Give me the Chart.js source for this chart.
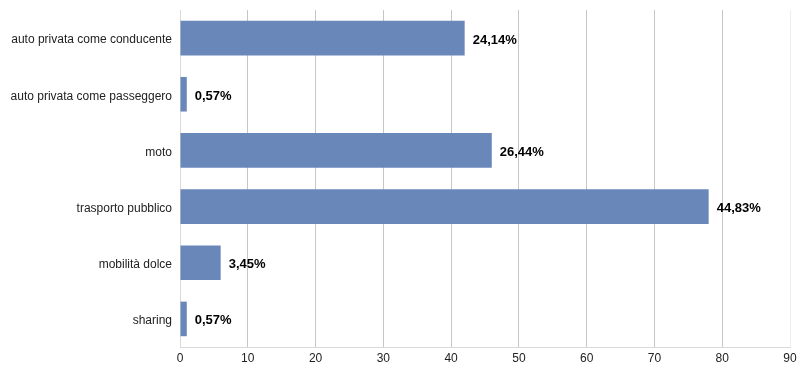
<!DOCTYPE html>
<html>
<head>
<meta charset="utf-8">
<script src="https://cdn.jsdelivr.net/npm/chart.js@4/dist/chart.umd.min.js"></script>
<style>
html,body{margin:0;padding:0;background:#fff;}
#wrap{width:804px;height:382px;position:relative;}
</style>
</head>
<body>
<div id="wrap"><canvas id="c" width="804" height="382"></canvas></div>
<script>
const categories = ["auto privata come conducente","auto privata come passeggero","moto","trasporto pubblico","mobilità dolce","sharing"];
const counts = [42, 1, 46, 78, 6, 1];
const percentLabels = ["24,14%","0,57%","26,44%","44,83%","3,45%","0,57%"];
const xTicks = [0,10,20,30,40,50,60,70,80,90];

const labelPlugin = {
  id: 'barLabels',
  afterDatasetsDraw(chart) {
    const ctx = chart.ctx;
    const meta = chart.getDatasetMeta(0);
    ctx.save();
    ctx.font = 'bold 13px "Liberation Sans", Arial, sans-serif';
    ctx.fillStyle = '#000';
    ctx.textBaseline = 'middle';
    ctx.textAlign = 'left';
    meta.data.forEach((bar, i) => {
      ctx.fillText(percentLabels[i], bar.x + 8, bar.y + 2);
    });
    ctx.restore();
  }
};

new Chart(document.getElementById('c'), {
  type: 'bar',
  data: {
    labels: categories,
    datasets: [{
      data: counts,
      backgroundColor: '#6a87ba',
      borderWidth: 0,
      barPercentage: 0.77,
      categoryPercentage: 0.8
    }]
  },
  options: {
    indexAxis: 'y',
    responsive: false,
    animation: false,
    devicePixelRatio: 1,
    layout: { padding: { left: 0, right: 14, top: 10, bottom: 0 } },
    plugins: { legend: { display: false }, tooltip: { enabled: false } },
    scales: {
      x: {
        min: 0, max: 90,
        afterBuildTicks(scale) { scale.ticks = xTicks.map(v => ({ value: v })); },
        ticks: {
          color: '#222',
          font: { family: '"Liberation Sans", Arial, sans-serif', size: 12 },
          padding: 4
        },
        grid: {
          drawTicks: false,
          color: (c) => c.tick && c.tick.value === 90 ? '#eeeeee' : '#c6c6c6',
          lineWidth: 1
        },
        border: { display: true, color: '#d9d9d9' },
        afterFit(scale) { scale.height = 35; }
      },
      y: {
        ticks: {
          color: '#222',
          font: { family: '"Liberation Sans", Arial, sans-serif', size: 12 },
          padding: 8,
          labelOffset: 2
        },
        grid: { display: false, drawTicks: false },
        border: { display: true, color: '#d9d9d9' },
        afterFit(scale) { scale.width = 180; scale.paddingTop = 0; scale.paddingBottom = 0; }
      }
    }
  },
  plugins: [labelPlugin]
});
</script>
</body>
</html>
